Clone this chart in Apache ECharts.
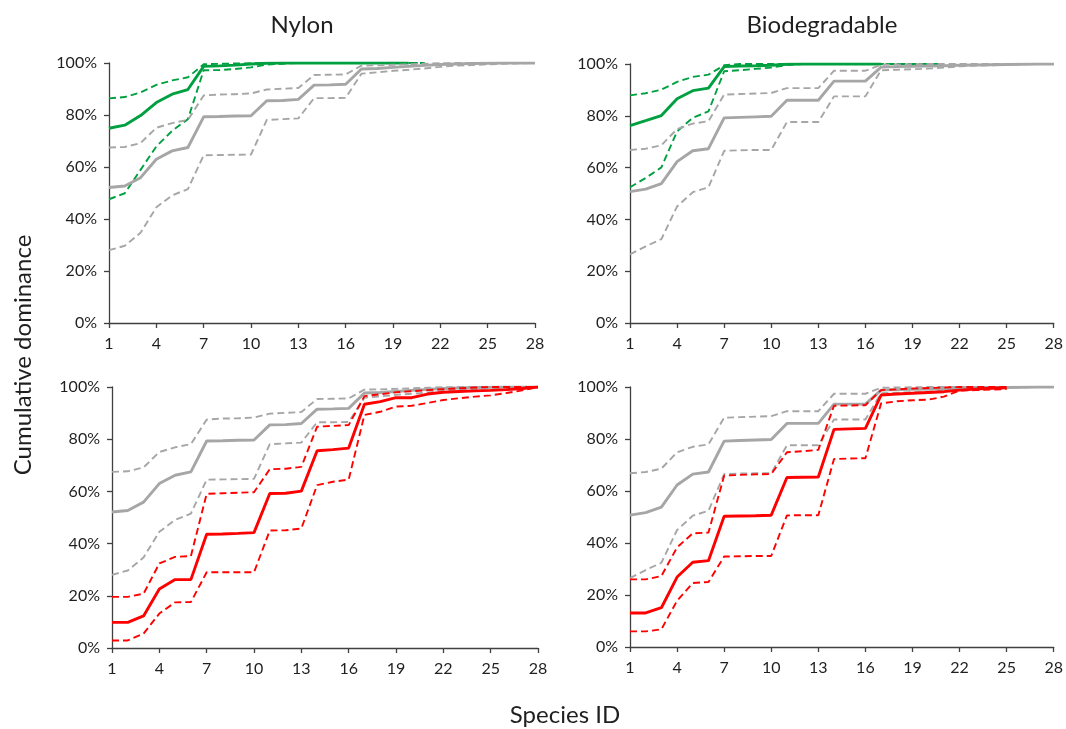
<!DOCTYPE html>
<html>
<head>
<meta charset="utf-8">
<script src="https://cdn.jsdelivr.net/npm/echarts@6/dist/echarts.min.js"></script>
<style>html,body{margin:0;padding:0;background:#fff}#c{width:1066px;height:729px}</style>
</head>
<body>
<div id="c"></div>
<script>
var speciesIds = [];
for (var i = 1; i <= 28; i++) speciesIds.push(String(i));
var yTicks = [0, 20, 40, 60, 80, 100];
var panelTitles = ['Nylon', 'Biodegradable'];

// Nylon reference community (gray)
var nylonRefMean = [52.1,52.7,55.9,63.0,66.2,67.5,79.3,79.4,79.6,79.7,85.5,85.6,86.0,91.5,91.6,91.8,97.7,97.9,98.3,98.7,99.1,99.4,99.6,99.8,99.9,100,100,100];
var nylonRefUp   = [67.5,67.7,69.2,75.1,76.9,78.1,87.5,87.9,88.0,88.3,89.8,90.1,90.4,95.4,95.5,95.6,99.0,99.1,99.3,99.5,99.7,99.9,100,100,100,100,100,100];
var nylonRefLo   = [28.0,29.7,34.7,44.5,49.1,51.5,64.5,64.6,64.7,64.8,78.1,78.4,78.7,86.5,86.5,86.6,95.9,96.4,97.0,97.4,97.9,98.5,99.0,99.2,99.5,99.7,99.9,100];
// Nylon green
var nylonGreenMean = [74.9,76.1,79.8,84.8,88.0,89.8,98.7,98.9,99.2,99.6,99.9,100,100,100,100,100,100,100,100,100];
var nylonGreenUp   = [86.4,86.9,88.7,91.6,93.3,94.5,99.5,99.7,99.8,99.9,100,100,100,100,100,100,100,100,100,100,100];
var nylonGreenLo   = [47.6,49.9,58.9,67.9,73.9,78.4,97.2,97.3,97.7,98.3,99.4,99.7,100,100,100,100,100,100,100,100,100];
// Nylon red
var nylonRedMean = [9.8,9.8,12.3,22.6,26.2,26.2,43.6,43.7,43.9,44.2,59.2,59.3,60.1,75.6,76.0,76.6,93.4,94.4,95.9,95.9,97.3,98.0,98.3,98.5,98.7,99.0,99.4,100];
var nylonRedUp   = [19.6,19.6,20.8,32.4,34.9,35.2,59.1,59.3,59.5,59.7,68.5,68.7,69.4,84.8,85.1,85.4,96.5,97.2,98.0,98.4,98.8,99.2,99.5,99.8,100,100,100,100];
var nylonRedLo   = [2.9,2.9,5.5,13.2,17.5,17.6,29.0,29.0,29.0,29.0,45.0,45.1,45.8,62.4,63.7,64.5,89.3,90.5,92.5,92.8,93.9,95.0,95.7,96.3,96.8,97.7,98.7,100];

// Biodegradable reference community (gray)
var bioRefMean = [50.7,51.7,53.8,62.3,66.5,67.3,79.2,79.4,79.6,79.8,86.0,86.0,86.0,93.4,93.4,93.4,98.8,99.0,99.1,99.2,99.3,99.5,99.6,99.7,99.8,99.9,100,100];
var bioRefUp   = [66.8,67.3,68.6,74.9,77.0,77.9,88.2,88.4,88.6,88.8,90.7,90.7,90.7,97.4,97.4,97.4,99.7,99.8,99.9,100,100,100,100,100,100,100,100,100];
var bioRefLo   = [26.5,29.6,32.4,45.0,50.5,52.4,66.5,66.7,66.8,66.8,77.6,77.6,77.6,87.5,87.5,87.5,97.6,97.8,98.0,98.2,98.6,99.1,99.4,99.5,99.7,99.9,100,100];
// Biodegradable green
var bioGreenMean = [76.2,78.1,80.1,86.6,89.7,90.7,99.0,99.2,99.3,99.5,99.9,100,100,100,100,100,100];
var bioGreenUp   = [87.9,88.7,90.1,93.1,95.0,95.9,99.5,100,100,100,100,100,100,100,100,100,100,100,100,100,100];
var bioGreenLo   = [52.4,56.0,60.1,74.0,79.2,81.7,97.2,97.6,98.1,98.6,99.6,100,100,100,100,100,100,100,100,100,100];
// Biodegradable red
var bioRedMean = [13.1,13.1,15.1,26.9,32.6,33.2,50.3,50.4,50.5,50.7,65.2,65.3,65.4,83.7,83.9,84.1,96.9,97.3,97.6,97.9,98.2,98.8,99.2,99.5,99.7];
var bioRedUp   = [26.0,26.0,27.3,38.3,43.7,44.0,65.9,66.2,66.4,66.5,74.9,75.3,75.8,92.8,92.9,93.0,98.8,99.1,99.4,99.6,99.8,100,100,100,100];
var bioRedLo   = [6.0,6.0,6.8,17.8,24.6,25.0,34.8,34.9,35.0,35.0,50.6,50.7,50.7,72.3,72.5,72.6,93.7,94.5,94.9,95.1,96.3,98.6,98.8,99.0,99.2];

var GRAY = '#A6A6A6', GREEN = '#00A040', RED = '#FF0000';
var FONT = 'Lato, "Open Sans", sans-serif';
var TEXT = '#1f1f1f', AXIS = '#404040';

var grids = [
  {left:109, top:63, width:426, height:260},
  {left:630, top:64, width:425, height:259},
  {left:112, top:387, width:426, height:261},
  {left:630, top:387, width:425, height:260}
];

var xAxes = [], yAxes = [], series = [];
grids.forEach(function (g, k) {
  xAxes.push({
    type:'category', gridIndex:k, data:speciesIds, boundaryGap:false,
    axisLine:{lineStyle:{color:AXIS, width:1.3}},
    axisTick:{interval:2, length:5, lineStyle:{color:AXIS, width:1.3}},
    axisLabel:{interval:2, margin:13, color:TEXT, fontSize:16, fontFamily:FONT},
    splitLine:{show:false}
  });
  yAxes.push({
    type:'value', gridIndex:k, min:yTicks[0], max:yTicks[yTicks.length-1], interval:20,
    axisLine:{show:true, lineStyle:{color:AXIS, width:1.3}},
    axisTick:{show:true, length:5, lineStyle:{color:AXIS, width:1.3}},
    axisLabel:{formatter:'{value}%', margin:12, color:TEXT, fontSize:16, fontFamily:FONT},
    splitLine:{show:false}
  });
});

function addLine(k, data, color, dashed, z) {
  series.push({
    type:'line', xAxisIndex:k, yAxisIndex:k, data:data, symbol:'none', silent:true,
    z:z,
    lineStyle:{color:color, width:dashed ? 1.9 : 2.9, type:dashed ? [7,4] : 'solid'}
  });
}
var panels = [
  [nylonRefMean, nylonRefUp, nylonRefLo, nylonGreenMean, nylonGreenUp, nylonGreenLo, GREEN],
  [bioRefMean, bioRefUp, bioRefLo, bioGreenMean, bioGreenUp, bioGreenLo, GREEN],
  [nylonRefMean, nylonRefUp, nylonRefLo, nylonRedMean, nylonRedUp, nylonRedLo, RED],
  [bioRefMean, bioRefUp, bioRefLo, bioRedMean, bioRedUp, bioRedLo, RED]
];
panels.forEach(function (p, k) {
  var colorTop = k < 2; // gray drawn above green in top panels
  addLine(k, p[4], p[6], true, colorTop ? 2 : 5);
  addLine(k, p[5], p[6], true, colorTop ? 2 : 5);
  addLine(k, p[3], p[6], false, colorTop ? 2 : 6);
  addLine(k, p[1], GRAY, true, colorTop ? 4 : 3);
  addLine(k, p[2], GRAY, true, colorTop ? 4 : 3);
  addLine(k, p[0], GRAY, false, colorTop ? 5 : 4);
});

var chart = echarts.init(document.getElementById('c'), null, {renderer:'canvas'});
chart.setOption({
  animation:false,
  backgroundColor:'#fff',
  grid:grids,
  xAxis:xAxes,
  yAxis:yAxes,
  series:series,
  graphic:[
    {type:'text', x:302, y:25, style:{text:panelTitles[0], font:'24px ' + FONT, fill:TEXT, align:'center', verticalAlign:'middle'}},
    {type:'text', x:822, y:25, style:{text:panelTitles[1], font:'24px ' + FONT, fill:TEXT, align:'center', verticalAlign:'middle'}},
    {type:'text', x:23, y:355, rotation:Math.PI/2, style:{text:'Cumulative dominance', font:'24px ' + FONT, fill:TEXT, align:'center', verticalAlign:'middle'}},
    {type:'text', x:565, y:715, style:{text:'Species ID', font:'24px ' + FONT, fill:TEXT, align:'center', verticalAlign:'middle'}}
  ]
});
</script>
</body>
</html>
